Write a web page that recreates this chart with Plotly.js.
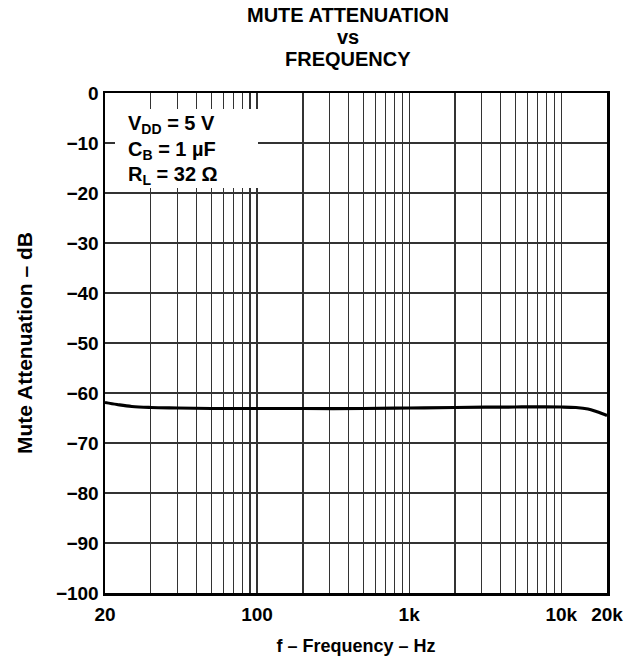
<!DOCTYPE html>
<html>
<head>
<meta charset="utf-8">
<script src="https://cdn.plot.ly/plotly-3.0.1.min.js"></script>
<style>html,body{margin:0;padding:0;background:#fff;}#chart{width:642px;height:659px;}</style>
</head>
<body>
<div id="chart"></div>
<script>
// Data (left edge of axis is labelled "20")
const freq = [10, 12, 15, 20, 30, 50, 100, 200, 500, 1000, 2000, 5000, 10000, 12500, 15000, 17000, 18500, 20000];
const atten = [-61.9, -62.3, -62.7, -62.9, -63.0, -63.1, -63.1, -63.1, -63.1, -63.0, -62.9, -62.8, -62.8, -62.9, -63.2, -63.7, -64.1, -64.5];

const xTickVals = [10, 100, 1000, 10000, 20000];
const xTickText = ['20', '100', '1k', '10k', '20k'];
const xMinorVals = [20,30,40,50,60,70,80,90,200,300,400,500,600,700,800,900,2000,3000,4000,5000,6000,7000,8000,9000];
const yTickVals = [0,-10,-20,-30,-40,-50,-60,-70,-80,-90,-100];
const yTickText = ['0','−10','−20','−30','−40','−50','−60','−70','−80','−90','−100'];
const conditions = ['V<sub>DD</sub> = 5 V', 'C<sub>B</sub> = 1 µF', 'R<sub>L</sub> = 32 Ω'];
const titleLines = ['MUTE ATTENUATION', 'vs', 'FREQUENCY'];

const FONT = 'Liberation Sans, Arial, sans-serif';
const gridColor = '#333';

const trace = {
  x: freq, y: atten, type: 'scatter', mode: 'lines',
  line: {color: '#000', width: 3.2, shape: 'spline'},
  hoverinfo: 'skip'
};

const annotations = [];
// white box behind the conditions text (hides the grid there)
annotations.push({
  xref: 'paper', yref: 'paper', x: 0.02, y: 0.968, xanchor: 'left', yanchor: 'top',
  width: 143, height: 79, text: ' ', showarrow: false, bgcolor: '#fff', borderpad: 0, borderwidth: 0
});
const condY = [0.938, 0.886, 0.836];
conditions.forEach((t, i) => annotations.push({
  xref: 'paper', yref: 'paper', x: 0.042, y: condY[i], xanchor: 'left', yanchor: 'middle',
  text: '<b>' + t + '</b>', showarrow: false,
  font: {family: FONT, size: 20, color: '#000'}
}));
const titleY = [1.155, 1.112, 1.069];
titleLines.forEach((t, i) => annotations.push({
  xref: 'paper', yref: 'paper', x: 0.485, y: titleY[i], xanchor: 'center', yanchor: 'middle',
  text: '<b>' + t + '</b>', showarrow: false,
  font: {family: FONT, size: 20, color: '#000'}
}));

const layout = {
  width: 642, height: 659,
  margin: {l: 105, r: 35, t: 93, b: 66},
  paper_bgcolor: '#fff', plot_bgcolor: '#fff',
  showlegend: false,
  font: {family: FONT, color: '#000'},
  xaxis: {
    type: 'log', range: [Math.log10(10), Math.log10(20000)],
    tickvals: xTickVals, ticktext: xTickText,
    tickfont: {family: FONT, size: 19, color: '#000', weight: 'bold'},
    ticks: '', ticklabelstandoff: 3,
    showline: true, mirror: true, linecolor: '#000', linewidth: 2.5,
    showgrid: true, gridcolor: gridColor, gridwidth: 1.3,
    minor: {tickvals: xMinorVals, showgrid: true, gridcolor: gridColor, gridwidth: 1.3, ticks: ''},
    zeroline: false,
    title: {text: '<b>f – Frequency – Hz</b>', font: {family: FONT, size: 18, color: '#000'}, standoff: 15},
    fixedrange: true
  },
  yaxis: {
    range: [-100, 0], tickvals: yTickVals, ticktext: yTickText,
    tickfont: {family: FONT, size: 19, color: '#000', weight: 'bold'},
    ticks: '', showline: true, mirror: true, linecolor: '#000', linewidth: 2.5,
    showgrid: true, gridcolor: gridColor, gridwidth: 1.3, zeroline: false,
    title: {text: '<b>Mute Attenuation – dB</b>', font: {family: FONT, size: 21, color: '#000'}, standoff: 18},
    fixedrange: true
  },
  annotations: annotations
};

Plotly.newPlot('chart', [trace], layout, {displayModeBar: false, staticPlot: true});
</script>
</body>
</html>
